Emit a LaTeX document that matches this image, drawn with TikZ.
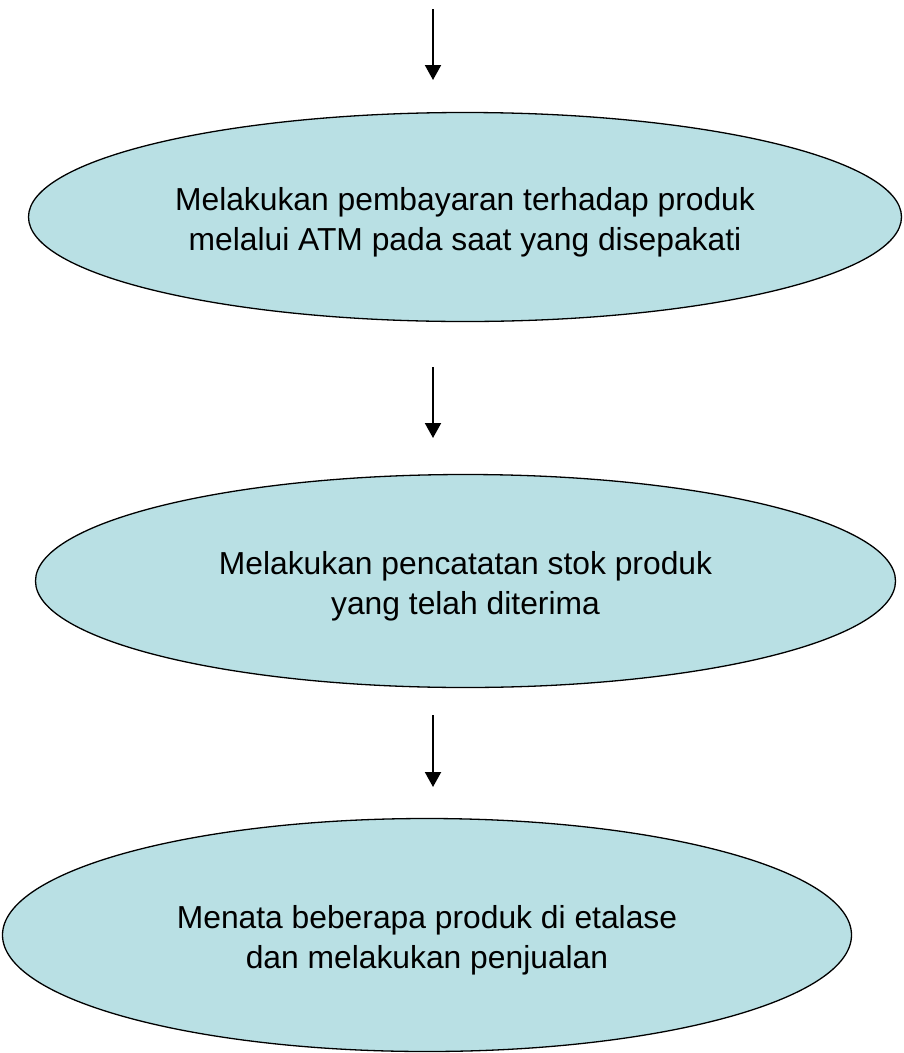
\documentclass[tikz,border=0pt]{standalone}
\usepackage{fontspec}
\setmainfont{Liberation Sans}
\usetikzlibrary{shapes.geometric,arrows.meta}
\definecolor{ellfill}{RGB}{185,224,228}
\newcommand{\toppad}{\rule{0pt}{33pt}}
\begin{document}
\begin{tikzpicture}[x=1pt,y=-1pt,
  stepell/.style={ellipse,draw=black,line width=1.3pt,fill=ellfill,inner sep=0pt,
    align=center,font=\fontsize{31.8}{40}\selectfont},
  flowarrow/.style={line width=2pt,-{Triangle[width=16pt,length=15pt]}}]
\useasboundingbox (0,0) rectangle (903,1053);
\node[stepell,minimum width=873pt,minimum height=209pt] (e1) at (465,217)
  {\toppad Melakukan pembayaran terhadap produk\\melalui ATM pada saat yang disepakati};
\node[stepell,minimum width=860pt,minimum height=213pt] (e2) at (465.5,581)
  {\toppad Melakukan pencatatan stok produk\\yang telah diterima};
\node[stepell,minimum width=849pt,minimum height=233pt] (e3) at (427,935)
  {\toppad Menata beberapa produk di etalase\\dan melakukan penjualan};
\coordinate (a1s) at (433,9);
\coordinate (a1e) at (433,80);
\coordinate (a2s) at (433,367);
\coordinate (a2e) at (433,438);
\coordinate (a3s) at (433,715);
\coordinate (a3e) at (433,787);
\draw[flowarrow] (a1s) -- (a1e);
\draw[flowarrow] (a2s) -- (a2e);
\draw[flowarrow] (a3s) -- (a3e);
\end{tikzpicture}
\end{document}
